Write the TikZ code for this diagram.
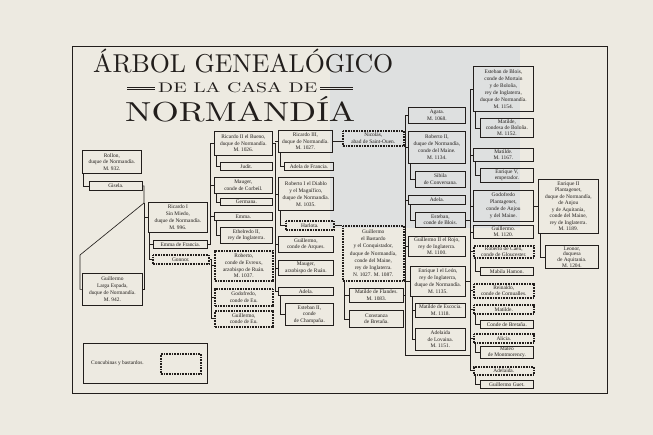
\documentclass[tikz,border=0pt]{standalone}
\usepackage{fontspec}
\usepackage{graphicx}
\usetikzlibrary{calc}
\newfontfamily\boxfont{Liberation Serif}
\definecolor{paper}{RGB}{237,234,225}
\definecolor{bgshade}{RGB}{222,224,224}
\definecolor{ink}{RGB}{34,30,28}
\newcommand{\bx}[7]{\node[#6, minimum width=#4pt, minimum height=#5pt, anchor=north west] (#1) at (#2,#3) {#7};}
\begin{document}
\begin{tikzpicture}[x=1pt,y=-1pt,
  box/.style={draw=ink, line width=0.8pt, inner sep=0pt, align=center, text=ink,
    font=\boxfont\fontsize{5.4}{6.5}\selectfont},
  dbox/.style={box, line width=1.6pt, dash pattern=on 0.8pt off 0.8pt},
  conn/.style={draw=ink, line width=0.65pt},
  rule/.style={draw=ink, line width=0.45pt}]
\fill[paper] (0,0) rectangle (653,435);
\useasboundingbox (0,0) rectangle (653,435);
\fill[bgshade] (330,47) rectangle (520,228);
\draw[ink, line width=0.9pt] (72,46) rectangle (607,393);
% title
\node[anchor=base west, inner sep=0, text=ink] (t1) at (93,73) {\resizebox{300pt}{!}{ÁRBOL GENEALÓGICO}};
\node[anchor=base west, inner sep=0, text=ink] (t2) at (158,93) {\resizebox{159pt}{10pt}{DE LA CASA DE}};
\node[anchor=base west, inner sep=0, text=ink] (t3) at (125,122) {\resizebox{230pt}{25pt}{NORMANDÍA}};
\draw[rule] (127,87) -- (155,87) (127,89.5) -- (155,89.5);
\draw[rule] (320,87) -- (353,87) (320,89.5) -- (353,89.5);
% boxes
\bx{rollon}{82}{150}{59}{23}{box}{Rollon,\\duque de Normandía.\\M. 932.}
\bx{gisela}{89}{181}{53}{9}{box}{Gisela.}
\bx{guillA}{82}{273}{60}{32}{box, font=\boxfont\fontsize{5.4}{7}\selectfont}{Guillermo\\Larga Espada,\\duque de Normandía.\\M. 942.}
\bx{ricI}{148}{202}{59}{30}{box, font=\boxfont\fontsize{5.4}{6.9}\selectfont}{Ricardo I\\Sin Miedo,\\duque de Normandía.\\M. 996.}
\bx{emmafr}{153}{240}{54}{8}{box}{Emma de Francia.}
\bx{gonnor}{152}{254}{56}{9}{dbox}{Gonnor.}
\bx{ricII}{214}{131}{58}{24}{box}{Ricardo II el Bueno,\\duque de Normandía.\\M. 1026.}
\bx{judit}{220}{162}{52}{8}{box}{Judit.}
\bx{maugerA}{214}{177}{58}{16}{box}{Mauger,\\conde de Corbeil.}
\bx{germana}{220}{198}{52}{7}{box}{Germana.}
\bx{emma}{214}{212}{58}{8}{box}{Emma.}
\bx{ethel}{220}{227}{52}{16}{box}{Ethelredo II,\\rey de Inglaterra.}
\bx{robev}{214}{250}{58}{30}{dbox, font=\boxfont\fontsize{5.4}{6.8}\selectfont}{Roberto,\\conde de Evreux,\\arzobispo de Ruán.\\M. 1037.}
\bx{godeu}{214}{288}{58}{17}{dbox}{Godofredo,\\conde de Eu.}
\bx{guieu}{214}{310}{58}{16}{dbox}{Guillermo,\\conde de Eu.}
\bx{ricIII}{278}{130}{54}{22}{box}{Ricardo III,\\duque de Normandía.\\M. 1027.}
\bx{adelafr}{284}{162}{49}{8}{box}{Adela de Francia.}
\bx{robI}{278}{177}{55}{33}{box, font=\boxfont\fontsize{5.4}{7}\selectfont}{Roberto I el Diablo\\y el Magnífico,\\duque de Normandía.\\M. 1035.}
\bx{harlota}{285}{220}{48}{9}{dbox}{Harlota.}
\bx{guiarq}{278}{236}{55}{16}{box}{Guillermo,\\conde de Arques.}
\bx{maugerB}{278}{260}{55}{15}{box}{Mauger,\\arzobispo de Ruán.}
\bx{adelaA}{278}{287}{55}{8}{box}{Adela.}
\bx{estII}{285}{303}{48}{22}{box}{Esteban II,\\conde\\de Champaña.}
\bx{nicolas}{342}{130}{61}{15}{dbox}{Nicolás,\\abad de Saint-Ouen.}
\bx{guiB}{342}{225}{61}{55}{dbox, font=\boxfont\fontsize{5.4}{7.2}\selectfont}{Guillermo\\el Bastardo\\y el Conquistador,\\duque de Normandía,\\conde del Maine,\\rey de Inglaterra.\\N. 1027. M. 1087.}
\bx{matfl}{349}{288}{54}{14}{box}{Matilde de Flandes.\\M. 1083.}
\bx{constanza}{349}{310}{54}{17}{box}{Constanza\\de Bretaña.}
\bx{agata}{408}{107}{57}{16}{box}{Agata.\\M. 1068.}
\bx{robII}{408}{131}{57}{32}{box, font=\boxfont\fontsize{5.4}{7.1}\selectfont}{Roberto II,\\duque de Normandía,\\conde del Maine.\\M. 1134.}
\bx{sibila}{415}{171}{50}{16}{box}{Sibila\\de Conversana.}
\bx{adelaB}{408}{195}{57}{9}{box}{Adela.}
\bx{estblois}{415}{212}{50}{15}{box}{Esteban,\\conde de Blois.}
\bx{guiII}{408}{236}{57}{20}{box}{Guillermo II el Rojo,\\rey de Inglaterra.\\M. 1100.}
\bx{enrI}{410}{266}{55}{30}{box, font=\boxfont\fontsize{5.4}{6.9}\selectfont}{Enrique I el León,\\rey de Inglaterra,\\duque de Normandía.\\M. 1135.}
\bx{matesc}{415}{303}{50}{14}{box}{Matilde de Escocia.\\M. 1118.}
\bx{adelov}{415}{328}{50}{22}{box}{Adelaida\\de Lovaina.\\M. 1151.}
\bx{estdb}{473}{66}{60}{45}{box, font=\boxfont\fontsize{5.4}{7}\selectfont}{Esteban de Blois,\\conde de Mortain\\y de Boloña,\\rey de Inglaterra,\\duque de Normandía.\\M. 1154.}
\bx{matbol}{480}{118}{53}{19}{box, font=\boxfont\fontsize{5.4}{6}\selectfont}{Matilde,\\condesa de Boloña.\\M. 1152.}
\bx{matemp}{473}{148}{60}{13}{box, font=\boxfont\fontsize{5.4}{5.8}\selectfont}{Matilde.\\M. 1167.}
\bx{enrV}{480}{168}{53}{14}{box}{Enrique V,\\emperador.}
\bx{godpl}{473}{190}{60}{31}{box, font=\boxfont\fontsize{5.4}{7}\selectfont}{Godofredo\\Plantagenet,\\conde de Anjou\\y del Maine.}
\bx{gui1120}{473}{225}{60}{13}{box, font=\boxfont\fontsize{5.4}{5.8}\selectfont}{Guillermo.\\M. 1120.}
\bx{robcaen}{473}{245}{60}{12}{dbox, font=\boxfont\fontsize{5.4}{5.6}\selectfont}{Roberto de Caen,\\conde de Gloucester.}
\bx{mabila}{480}{267}{53}{8}{box}{Mabila Hamon.}
\bx{reinaldo}{473}{283}{60}{14}{dbox}{Reinaldo,\\conde de Cornualles.}
\bx{matB}{473}{304}{60}{9}{dbox}{Matilde.}
\bx{condebr}{480}{320}{53}{8}{box}{Conde de Bretaña.}
\bx{alicia}{473}{333}{60}{9}{dbox}{Alicia.}
\bx{mateo}{480}{346}{53}{12}{box, font=\boxfont\fontsize{5.4}{5.6}\selectfont}{Mateo\\de Montmorency.}
\bx{adelB}{473}{366}{60}{8}{dbox}{Adelaida.}
\bx{guigu}{480}{380}{53}{8}{box}{Guillermo Guet.}
\bx{enrII}{538}{179}{60}{54}{box}{Enrique II\\Plantagenet,\\duque de Normandía,\\de Anjou\\y de Aquitania,\\conde del Maine,\\rey de Inglaterra.\\M. 1189.}
\bx{leonor}{545}{245}{53}{23}{box, font=\boxfont\fontsize{5.4}{5.6}\selectfont}{Leonor,\\duquesa\\de Aquitania.\\M. 1204.}
% legend
\bx{legend}{83}{343}{124}{40}{box}{}
\node[anchor=west, inner sep=0, text=ink, font=\boxfont\fontsize{5.4}{6}\selectfont] (legtxt) at (91,363) {Concubinas y bastardos.};
\bx{legdot}{160}{353}{40}{20}{dbox}{}
% connectors
\coordinate (dA) at (144,203);
\coordinate (dB) at (80,255);
\draw[conn] ([xshift=1.5pt]rollon.south west) |- (gisela.west);
\draw[conn] (gisela.east) -| (dA) -- (dB) |- (guillA.west);
\draw[conn] (dA) |- (guillA.east);
\draw[conn] (dA |- ricI.west) -- (ricI.west);
\draw[conn] ([xshift=1.5pt]ricI.south west) |- (emmafr.west);
\draw[conn] ([xshift=1.5pt]ricI.south west) |- (gonnor.west);
\coordinate (bA) at (210,0);
\draw[conn] (emmafr.east) -| (bA |- ricII.west) -- (ricII.west);
\draw[conn] (bA |- maugerA.west) -- (maugerA.west);
\draw[conn] (bA |- emma.west) -- (emma.west);
\coordinate (bB) at (211.5,0);
\draw[conn] (gonnor.east) -| (bB |- guieu.west) -- (guieu.west);
\draw[conn] (bB |- robev.west) -- (robev.west);
\draw[conn] (bB |- godeu.west) -- (godeu.west);
\draw[conn] ([xshift=2.5pt]ricII.south west) |- (judit.west);
\draw[conn] ([xshift=2.5pt]maugerA.south west) |- (germana.west);
\draw[conn] ([xshift=2.5pt]emma.south west) |- (ethel.west);
\coordinate (bC) at (275,0);
\draw[conn] (ricII.east) -| (bC |- adelaA.west) -- (adelaA.west);
\foreach \n in {ricIII,robI,guiarq,maugerB} \draw[conn] (bC |- \n.west) -- (\n.west);
\draw[conn] ([xshift=2.5pt]ricIII.south west) |- (adelafr.west);
\draw[conn] ([xshift=2.5pt]robI.south west) |- (harlota.west);
\draw[conn] ([xshift=2.5pt]adelaA.south west) |- (estII.west);
\draw[conn] (ricIII.east) -- (ricIII.east -| nicolas.west);
\draw[conn] (harlota.east) -- (harlota.east -| guiB.west);
\draw[conn] ([xshift=2.5pt]guiB.south west) |- (matfl.west);
\draw[conn] ([xshift=2.5pt]guiB.south west) |- (constanza.west);
\coordinate (bD) at (405,0);
\coordinate (bE) at (470,0);
\coordinate (bot) at (0,355);
\draw[conn] (agata.west) -| (bD |- bot) -- (bE |- bot);
\foreach \n in {robII,adelaB,guiII,enrI} \draw[conn] (bD |- \n.west) -- (\n.west);
\draw[conn] (guiB.east) -- (guiB.east -| bD);
\draw[conn] (matfl.east) -- (matfl.east -| bD);
\draw[conn] ([xshift=2.5pt]robII.south west) |- (sibila.west);
\draw[conn] ([xshift=2.5pt]adelaB.south west) |- (estblois.west);
\draw[conn] ([xshift=2pt]enrI.south west) |- (matesc.west);
\draw[conn] ([xshift=2pt]enrI.south west) |- (adelov.west);
\draw[conn] (estdb.west) -| (bE |- adelB.west) -- (adelB.west);
\foreach \n in {matemp,godpl,gui1120,robcaen,reinaldo,matB,alicia} \draw[conn] (bE |- \n.west) -- (\n.west);
\draw[conn] (estblois.east) -- (estblois.east -| bE);
\draw[conn] (enrI.east) -- (enrI.east -| bE);
\draw[conn] ([xshift=2.5pt]estdb.south west) |- (matbol.west);
\draw[conn] ([xshift=2.5pt]matemp.south west) |- (enrV.west);
\draw[conn] ([xshift=2.5pt]robcaen.south west) |- (mabila.west);
\draw[conn] ([xshift=2.5pt]matB.south west) |- (condebr.west);
\draw[conn] ([xshift=2.5pt]alicia.south west) |- (mateo.west);
\draw[conn] ([xshift=2.5pt]adelB.south west) |- (guigu.west);
\draw[conn] (godpl.east) -- (godpl.east -| enrII.west);
\draw[conn] ([xshift=2.5pt]enrII.south west) |- (leonor.west);
\end{tikzpicture}
\end{document}
